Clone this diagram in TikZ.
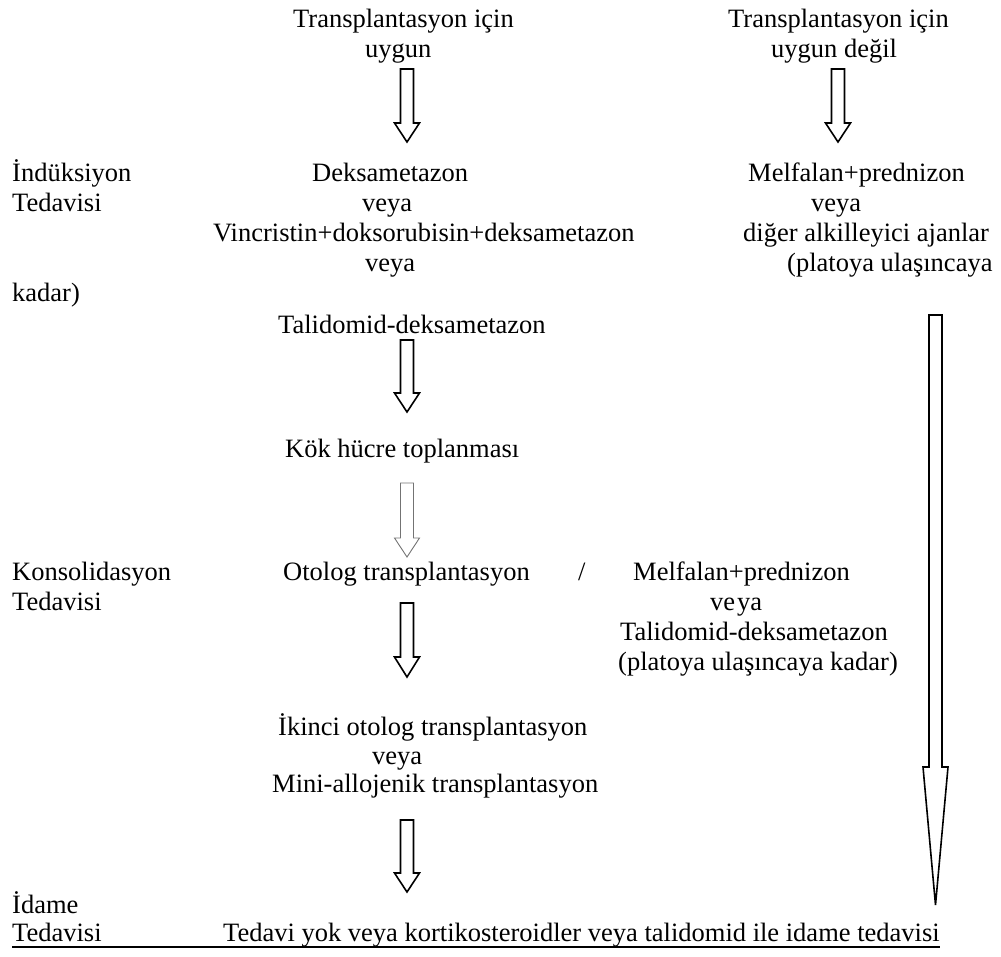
\documentclass[tikz,border=0pt]{standalone}
\usepackage{fontspec}
\setmainfont{Liberation Serif}
\newfontfamily\tnr{Liberation Serif}
\newcommand{\blockarr}[5][]{%
  \draw[#1] ({#2-6.5},#3) -- ({#2+6.5},#3) -- ({#2+6.5},#4) -- ({#2+12.5},#4)
    -- (#2,#5) -- ({#2-12.5},#4) -- ({#2-6.5},#4) -- cycle;}
\tikzset{
  txt/.style={inner sep=0pt, anchor=base west, font=\tnr\fontsize{26.5}{30}\selectfont},
  arr/.style={line width=1.6pt, line join=miter},
  garr/.style={line width=0.9pt, draw=black!55, line join=miter}
}
\begin{document}
\begin{tikzpicture}[x=1pt,y=-1pt]
\useasboundingbox (0,0) rectangle (1001,956);
% top headers
\node[txt] (ta1) at (293,27) {Transplantasyon için};
\node[txt] (ta2) at (365,57) {uygun};
\node[txt] (tb1) at (728,27) {Transplantasyon için};
\node[txt] (tb2) at (771,57) {uygun değil};
\blockarr[arr]{407}{69}{123}{142}
\blockarr[arr]{838}{69}{123}{142}
% induction
\node[txt] (ind1) at (12,181) {İndüksiyon};
\node[txt] (ind2) at (12,211) {Tedavisi};
\node[txt] (ind3) at (12,301) {kadar)};
\node[txt] (a1) at (312,181) {Deksametazon};
\node[txt] (a2) at (362,211) {veya};
\node[txt] (a3) at (213,241) {Vincristin+doksorubisin+deksametazon};
\node[txt] (a4) at (365,271) {veya};
\node[txt] (a5) at (278,333) {Talidomid-deksametazon};
\node[txt] (b1) at (748,181) {Melfalan+prednizon};
\node[txt] (b2) at (811,211) {veya};
\node[txt] (b3) at (743,241) {diğer alkilleyici ajanlar};
\node[txt] (b4) at (787,271) {(platoya ulaşıncaya};
\blockarr[arr]{407}{340}{393}{412}
\node[txt] (kok) at (285,457) {Kök hücre toplanması};
\blockarr[garr]{407}{483}{538}{557}
% consolidation
\node[txt] (kon1) at (12,580) {Konsolidasyon};
\node[txt] (kon2) at (12,610) {Tedavisi};
\node[txt] (oto) at (283,580) {Otolog transplantasyon};
\node[txt] (sl) at (578,580) {/};
\node[txt] (c1) at (633,580) {Melfalan+prednizon};
\node[txt] (c2) at (710,610) {ve\kern2pt ya};
\node[txt] (c3) at (620,640) {Talidomid-deksametazon};
\node[txt] (c4) at (618,670) {(platoya ulaşıncaya kadar)};
\blockarr[arr]{407}{603}{657}{677}
\node[txt] (d1) at (278,735) {İkinci otolog transplantasyon};
\node[txt] (d2) at (372,764) {veya};
\node[txt] (d3) at (272,792) {Mini-allojenik transplantasyon};
\blockarr[arr]{407}{820}{873}{892}
% maintenance
\node[txt] (ida1) at (12,913) {İdame};
\node[txt] (ida2) at (12,941) {Tedavisi};
\node[txt] (ida3) at (223,941) {Tedavi yok veya kortikosteroidler veya talidomid ile idame tedavisi};
\coordinate (ulL) at (12,947);
\coordinate (ulR) at (ida3.base east |- ulL);
\draw[line width=1.2pt] (ulL) -- (ulR);
% long arrow
\draw[arr] (929,315) -- (942,315) -- (942,767) -- (948,767) -- (935.5,905)
  -- (923,767) -- (929,767) -- cycle;
\end{tikzpicture}
\end{document}
